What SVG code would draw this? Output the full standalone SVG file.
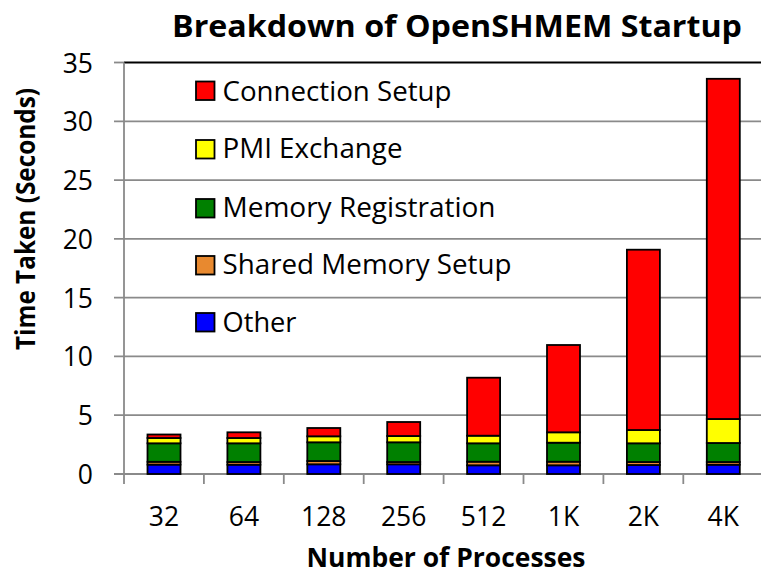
<svg xmlns="http://www.w3.org/2000/svg" width="761" height="575" viewBox="0 0 761 575">
<style>
text{font-family:"Open Sans","Noto Sans","Liberation Sans",sans-serif;fill:#000}
.title{font-size:31px;font-weight:bold}
.axt{font-size:26px;font-weight:bold}
.tick{font-size:26.5px}
.leg{font-size:28px}
.grid{stroke:#8a8a8a;stroke-width:1.8;fill:none}
.seg{stroke:#000;stroke-width:1.8}
.r{fill:#ff0000}.y{fill:#ffff00}.g{fill:#008000}.o{fill:#e8892f}.b{fill:#0000ff}
</style>
<rect width="761" height="575" fill="#fff"/>
<text id="title" class="title" x="457" y="36.5" text-anchor="middle" textLength="570" lengthAdjust="spacingAndGlyphs">Breakdown of OpenSHMEM Startup</text>
<g id="gridlines" class="grid">
<line x1="114" y1="121.3" x2="761" y2="121.3"/>
<line x1="114" y1="180.1" x2="761" y2="180.1"/>
<line x1="114" y1="238.9" x2="761" y2="238.9"/>
<line x1="114" y1="297.7" x2="761" y2="297.7"/>
<line x1="114" y1="356.4" x2="761" y2="356.4"/>
<line x1="114" y1="415.2" x2="761" y2="415.2"/>
<line x1="114" y1="62.5" x2="124" y2="62.5"/>
</g>
<line id="plot-top" x1="124" y1="62.5" x2="761" y2="62.5" stroke="#000" stroke-width="2"/>
<g id="axes" class="grid">
<line x1="124" y1="62.5" x2="124" y2="484"/>
<line x1="114" y1="474" x2="761" y2="474"/>
<line x1="203.9" y1="474" x2="203.9" y2="484"/>
<line x1="283.8" y1="474" x2="283.8" y2="484"/>
<line x1="363.7" y1="474" x2="363.7" y2="484"/>
<line x1="443.6" y1="474" x2="443.6" y2="484"/>
<line x1="523.5" y1="474" x2="523.5" y2="484"/>
<line x1="603.4" y1="474" x2="603.4" y2="484"/>
<line x1="683.3" y1="474" x2="683.3" y2="484"/>
</g>
<g id="y-labels" class="tick" text-anchor="end">
<text x="93" y="72.5">35</text>
<text x="93" y="131.3">30</text>
<text x="93" y="190.1">25</text>
<text x="93" y="248.9">20</text>
<text x="93" y="307.7">15</text>
<text x="93" y="366.4">10</text>
<text x="93" y="425.2">5</text>
<text x="93" y="484">0</text>
</g>
<g id="x-labels" class="tick" text-anchor="middle">
<text x="164" y="526">32</text>
<text x="243.9" y="526">64</text>
<text x="323.8" y="526">128</text>
<text x="403.7" y="526">256</text>
<text x="483.6" y="526">512</text>
<text x="563.5" y="526">1K</text>
<text x="643.4" y="526">2K</text>
<text x="723.3" y="526">4K</text>
</g>
<text id="x-title" class="axt" x="446" y="567" text-anchor="middle" textLength="279" lengthAdjust="spacingAndGlyphs">Number of Processes</text>
<text id="y-title" class="axt" transform="translate(35,219) rotate(-90)" x="0" y="0" text-anchor="middle" textLength="262" lengthAdjust="spacingAndGlyphs">Time Taken (Seconds)</text>
<g id="bars" class="seg">
<g id="bar-32">
<rect class="b" x="147.5" y="464.6" width="33" height="9.4"/>
<rect class="o" x="147.5" y="461.8" width="33" height="2.8"/>
<rect class="g" x="147.5" y="443.3" width="33" height="18.5"/>
<rect class="y" x="147.5" y="438" width="33" height="5.3"/>
<rect class="r" x="147.5" y="434.5" width="33" height="3.5"/>
</g>
<g id="bar-64">
<rect class="b" x="227.4" y="464.7" width="33" height="9.3"/>
<rect class="o" x="227.4" y="462" width="33" height="2.7"/>
<rect class="g" x="227.4" y="443.3" width="33" height="18.7"/>
<rect class="y" x="227.4" y="438" width="33" height="5.3"/>
<rect class="r" x="227.4" y="432.3" width="33" height="5.7"/>
</g>
<g id="bar-128">
<rect class="b" x="307.3" y="464.3" width="33" height="9.7"/>
<rect class="o" x="307.3" y="461" width="33" height="3.3"/>
<rect class="g" x="307.3" y="442.3" width="33" height="18.7"/>
<rect class="y" x="307.3" y="436.3" width="33" height="6"/>
<rect class="r" x="307.3" y="428" width="33" height="8.3"/>
</g>
<g id="bar-256">
<rect class="b" x="387.2" y="464.3" width="33" height="9.7"/>
<rect class="o" x="387.2" y="462" width="33" height="2.3"/>
<rect class="g" x="387.2" y="442.3" width="33" height="19.7"/>
<rect class="y" x="387.2" y="436" width="33" height="6.3"/>
<rect class="r" x="387.2" y="422" width="33" height="14"/>
</g>
<g id="bar-512">
<rect class="b" x="467.1" y="465.3" width="33" height="8.7"/>
<rect class="o" x="467.1" y="461.7" width="33" height="3.6"/>
<rect class="g" x="467.1" y="443.3" width="33" height="18.4"/>
<rect class="y" x="467.1" y="435.7" width="33" height="7.6"/>
<rect class="r" x="467.1" y="377.7" width="33" height="58"/>
</g>
<g id="bar-1K">
<rect class="b" x="547" y="465.3" width="33" height="8.7"/>
<rect class="o" x="547" y="461.7" width="33" height="3.6"/>
<rect class="g" x="547" y="442.7" width="33" height="19"/>
<rect class="y" x="547" y="432.3" width="33" height="10.4"/>
<rect class="r" x="547" y="345" width="33" height="87.3"/>
</g>
<g id="bar-2K">
<rect class="b" x="626.9" y="465" width="33" height="9"/>
<rect class="o" x="626.9" y="462" width="33" height="3"/>
<rect class="g" x="626.9" y="443.3" width="33" height="18.7"/>
<rect class="y" x="626.9" y="430" width="33" height="13.3"/>
<rect class="r" x="626.9" y="249.7" width="33" height="180.3"/>
</g>
<g id="bar-4K">
<rect class="b" x="706.8" y="464.7" width="33" height="9.3"/>
<rect class="o" x="706.8" y="462" width="33" height="2.7"/>
<rect class="g" x="706.8" y="443" width="33" height="19"/>
<rect class="y" x="706.8" y="419" width="33" height="24"/>
<rect class="r" x="706.8" y="78.8" width="33" height="340.2"/>
</g>
</g>
<g id="legend">
<g id="leg-connection"><rect class="r seg" x="196" y="81.5" width="18.5" height="18.5"/><text class="leg" x="222.5" y="100.5" textLength="229" lengthAdjust="spacingAndGlyphs">Connection Setup</text></g>
<g id="leg-pmi"><rect class="y seg" x="196" y="140" width="18.5" height="18.5"/><text class="leg" x="222.5" y="157.5" textLength="180" lengthAdjust="spacingAndGlyphs">PMI Exchange</text></g>
<g id="leg-memreg"><rect class="g seg" x="196" y="199" width="18.5" height="18.5"/><text class="leg" x="222.5" y="216.5" textLength="273" lengthAdjust="spacingAndGlyphs">Memory Registration</text></g>
<g id="leg-shm"><rect class="o seg" x="196" y="256" width="18.5" height="18.5"/><text class="leg" x="222.5" y="274" textLength="289" lengthAdjust="spacingAndGlyphs">Shared Memory Setup</text></g>
<g id="leg-other"><rect class="b seg" x="196" y="313" width="18.5" height="18.5"/><text class="leg" x="222.5" y="332" textLength="74" lengthAdjust="spacingAndGlyphs">Other</text></g>
</g>
</svg>
